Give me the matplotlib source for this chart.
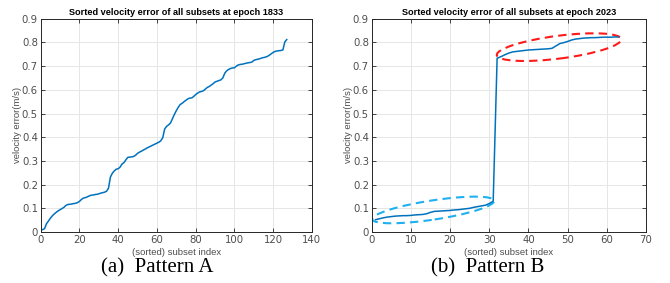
import numpy as np
import matplotlib.pyplot as plt
from matplotlib.patches import Ellipse
from matplotlib.transforms import ScaledTranslation

# sorted velocity error, epoch 1833 (pattern A)
err_a = [0.010, 0.014, 0.035, 0.046, 0.058, 0.068, 0.076, 0.083, 0.089, 0.094,
         0.099, 0.104, 0.112, 0.116, 0.117, 0.118, 0.120, 0.121, 0.124, 0.129,
         0.137, 0.143, 0.145, 0.148, 0.152, 0.155, 0.156, 0.158, 0.159, 0.161,
         0.164, 0.166, 0.168, 0.172, 0.185, 0.232, 0.248, 0.258, 0.265, 0.267,
         0.274, 0.287, 0.293, 0.305, 0.315, 0.316, 0.317, 0.319, 0.324, 0.332,
         0.337, 0.341, 0.346, 0.350, 0.355, 0.359, 0.363, 0.367, 0.371, 0.375,
         0.379, 0.385, 0.398, 0.435, 0.446, 0.452, 0.460, 0.478, 0.496, 0.512,
         0.526, 0.538, 0.543, 0.550, 0.556, 0.562, 0.565, 0.566, 0.572, 0.580,
         0.586, 0.591, 0.593, 0.596, 0.603, 0.610, 0.614, 0.620, 0.626, 0.633,
         0.636, 0.639, 0.642, 0.650, 0.670, 0.680, 0.686, 0.690, 0.692, 0.693,
         0.700, 0.705, 0.707, 0.708, 0.710, 0.712, 0.714, 0.715, 0.717, 0.724,
         0.727, 0.729, 0.731, 0.734, 0.736, 0.738, 0.741, 0.746, 0.752, 0.758,
         0.762, 0.764, 0.765, 0.766, 0.768, 0.802, 0.812]

# sorted velocity error, epoch 2023 (pattern B)
err_b = [0.052, 0.056, 0.060, 0.063, 0.065, 0.067, 0.068, 0.069, 0.069, 0.070,
         0.072, 0.073, 0.074, 0.077, 0.083, 0.087, 0.088, 0.089, 0.090, 0.091,
         0.093, 0.094, 0.096, 0.098, 0.100, 0.104, 0.107, 0.110, 0.113, 0.120,
         0.130, 0.733, 0.740, 0.748, 0.755, 0.760, 0.762, 0.764, 0.766, 0.768,
         0.769, 0.770, 0.771, 0.772, 0.773, 0.775, 0.785, 0.795, 0.799, 0.804,
         0.810, 0.814, 0.816, 0.818, 0.819, 0.820, 0.820, 0.821, 0.822, 0.822,
         0.822, 0.823, 0.823]

titles = ["Sorted velocity error of all subsets at epoch 1833",
          "Sorted velocity error of all subsets at epoch 2023"]
captions = ["(a)  Pattern A", "(b)  Pattern B"]
xlims = [140, 70]

line_col = "#0072BD"
dark = "#262626"

fig = plt.figure(figsize=(6.7, 2.83), dpi=100)
axes = [fig.add_axes([0.0607, 0.1802, 0.4049, 0.7537]),
        fig.add_axes([0.5548, 0.1802, 0.4094, 0.7537])]

for ax, err, title, xmax in zip(axes, [err_a, err_b], titles, xlims):
    idx = np.arange(1, len(err) + 1)
    ax.plot(idx, err, color=line_col, lw=1.1)
    ax.set_xlim(0, xmax)
    ax.set_ylim(0, 0.9)
    ax.set_yticks(np.arange(0, 0.91, 0.1))
    ax.set_yticklabels(["0", "0.1", "0.2", "0.3", "0.4", "0.5", "0.6", "0.7", "0.8", "0.9"])
    ax.grid(True, color="#e6e6e6", lw=0.7)
    ax.set_axisbelow(True)
    ax.tick_params(direction="in", length=3, width=0.6, colors=dark,
                   labelsize=7.3, labelcolor="#4d4d4d", top=True, right=True, pad=2)
    for s in ax.spines.values():
        s.set_color(dark)
        s.set_linewidth(0.7)
    ax.set_title(title, fontsize=6.6, fontweight="bold", pad=3, color="black",
                 family="Liberation Sans")
    ax.set_xlabel("(sorted) subset index", fontsize=6.8, color="#4d4d4d", labelpad=2,
                  family="Liberation Sans")
    ax.set_ylabel("velocity error(m/s)", fontsize=6.8, color="#4d4d4d", labelpad=0,
                  family="Liberation Sans")

# highlight ellipses on pattern B (sizes in inches, centred in data units)
ax = axes[1]
red = Ellipse((0, 0), 1.254, 0.228, angle=7.3, fill=False, ec="#FF1A1A", lw=1.5,
              ls=(0, (4, 2.5)),
              transform=fig.dpi_scale_trans + ScaledTranslation(47.8, 0.78, ax.transData))
blue = Ellipse((0, 0), 1.234, 0.192, angle=8.7, fill=False, ec="#1EB0F0", lw=1.5,
               ls=(0, (4, 2.5)),
               transform=fig.dpi_scale_trans + ScaledTranslation(15.7, 0.093, ax.transData))
ax.add_artist(red)
ax.add_artist(blue)

fig.text(157 / 670, 1 - 268 / 283, captions[0], ha="center", va="center",
         fontsize=15, family="Liberation Serif")
fig.text(488 / 670, 1 - 268 / 283, captions[1], ha="center", va="center",
         fontsize=15, family="Liberation Serif")

fig.savefig("out.png", dpi=100)
